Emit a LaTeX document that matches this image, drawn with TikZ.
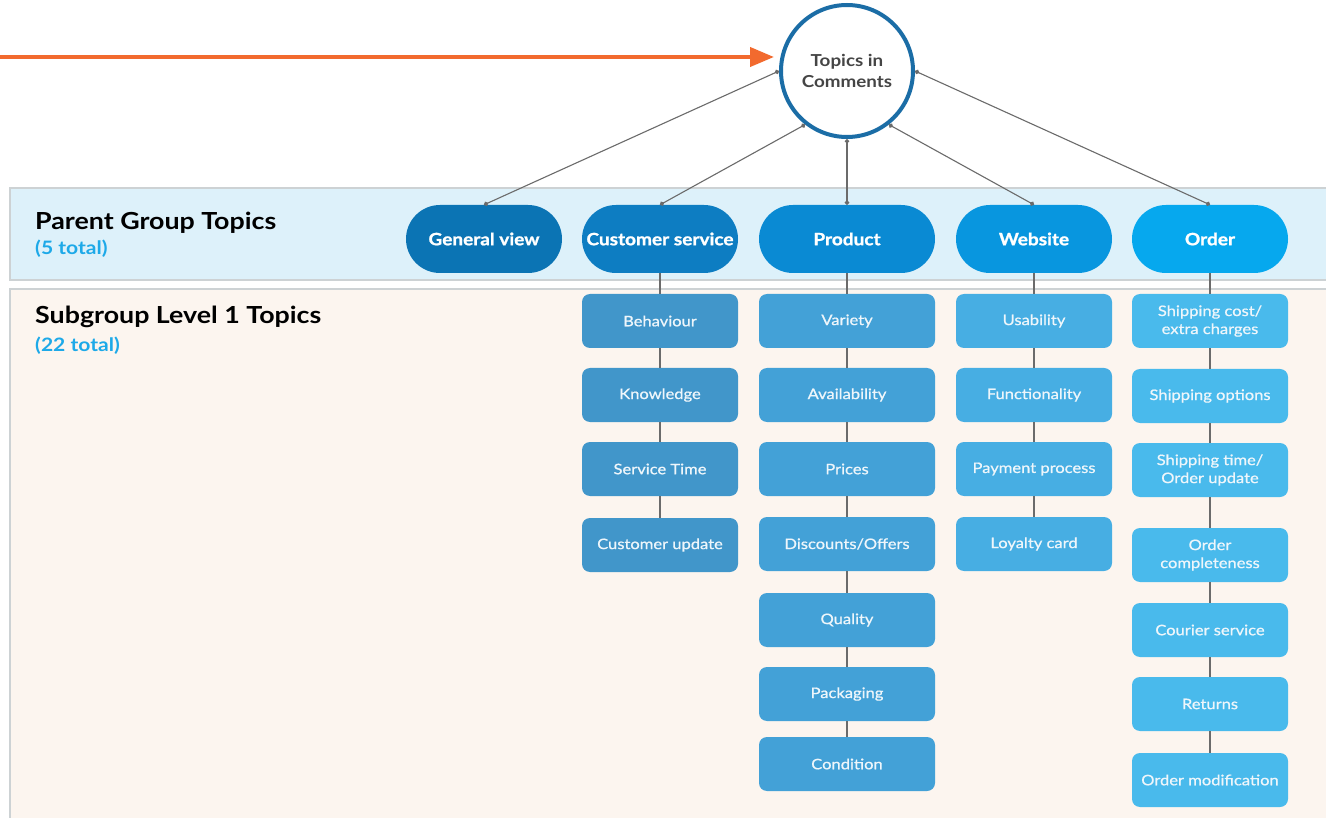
\documentclass[tikz,border=0pt]{standalone}
\usepackage{fontspec}
\setmainfont{Lato}[FakeStretch=1.14]
\newfontfamily\subfont{Lato}[FakeStretch=1.14, FakeBold=0.8]
\newfontfamily\heavyfont{Lato}[FakeStretch=1.12, BoldFeatures={FakeBold=1.2}]
\usetikzlibrary{shapes.misc,arrows.meta}

\definecolor{arroworange}{HTML}{F26A2E}
\definecolor{ringblue}{HTML}{1B6DA6}
\definecolor{bandblue}{HTML}{DDF1FA}
\definecolor{bandcream}{HTML}{FCF5EF}
\definecolor{bandedge}{HTML}{CDD2D4}
\definecolor{linegray}{HTML}{6B6B6B}
\definecolor{countblue}{HTML}{1DA9E8}
\definecolor{ringtext}{HTML}{454545}
\definecolor{pGeneral}{HTML}{0B74B4}
\definecolor{pService}{HTML}{0D7DC2}
\definecolor{pProduct}{HTML}{0A8AD3}
\definecolor{pWebsite}{HTML}{0896DF}
\definecolor{pOrder}{HTML}{06A8EE}
\definecolor{sService}{HTML}{4196CA}
\definecolor{sProduct}{HTML}{43A1D7}
\definecolor{sWebsite}{HTML}{47AEE3}
\definecolor{sOrder}{HTML}{49BAEC}
\definecolor{subtext}{HTML}{EEF6FB}

\begin{document}
\begin{tikzpicture}[x=1pt,y=-1pt,
  parent/.style={rounded rectangle, minimum width=156, minimum height=68,
    inner sep=0, text=white, font=\heavyfont\bfseries\fontsize{17}{19}\selectfont},
  sub/.style={rectangle, rounded corners=8, minimum width=156, minimum height=54,
    inner sep=0, text=subtext, align=center,
    font=\subfont\fontsize{14.5}{18}\selectfont},
  link/.style={draw=linegray, line width=1.1},
  dotlink/.style={link, {Circle[length=4.5pt]}-{Circle[length=4.5pt]}},
  heading/.style={anchor=base west, inner sep=0, font=\fontsize{23.5}{26}\selectfont\bfseries},
  count/.style={anchor=base west, inner sep=0, text=countblue, font=\fontsize{18.5}{20}\selectfont\bfseries},
]
\useasboundingbox (0,0) rectangle (1326,818);
\clip (0,0) rectangle (1326,818);

% background bands
\fill[white] (0,0) rectangle (1326,818);
\draw[fill=bandblue, draw=bandedge, line width=1.5] (10,188) rectangle (1340,280);
\draw[fill=bandcream, draw=bandedge, line width=1.5] (10,289) rectangle (1340,830);

% band headings
\node[heading] (phead) at (35,230) {Parent Group Topics};
\node[count] (pcount) at (35,255) {(5 total)};
\node[heading] (shead) at (35,324) {Subgroup Level 1 Topics};
\node[count] (scount) at (35,352) {(22 total)};

% root
\node[circle, draw=ringblue, line width=4, fill=white, minimum size=132,
  align=center, text=ringtext, font=\fontsize{16.5}{21}\selectfont\bfseries]
  (root) at (847,71) {Topics in\\Comments};

% orange pointer
\coordinate (pstart) at (0,57);
\coordinate (ptip) at (774,57);
\draw[arroworange, line width=4, -{Triangle[length=24pt,width=19pt]}] (pstart) -- (ptip);

% parent group topics
\node[parent, fill=pGeneral] (gv) at (484,239) {General view};
\node[parent, fill=pService] (cs) at (660,239) {Customer service};
\node[parent, fill=pProduct, minimum width=176] (pr) at (847,239) {Product};
\node[parent, fill=pWebsite] (wb) at (1034,239) {Website};
\node[parent, fill=pOrder] (od) at (1210,239) {Order};

% root to parents
\draw[dotlink] (root.180) -- (gv.north);
\draw[dotlink] (root.232) -- (cs.north);
\draw[dotlink] (root.270) -- (pr.north);
\draw[dotlink] (root.308) -- (wb.north);
\draw[dotlink] (root.0) -- (od.north);

% customer service subtopics
\node[sub, fill=sService] (cs1) at (660,321) {Behaviour};
\node[sub, fill=sService] (cs2) at (660,395) {Knowledge};
\node[sub, fill=sService] (cs3) at (660,469) {Service Time};
\node[sub, fill=sService] (cs4) at (660,545) {Customer update};

% product subtopics
\node[sub, fill=sProduct, minimum width=176] (pr1) at (847,321) {Variety};
\node[sub, fill=sProduct, minimum width=176] (pr2) at (847,395) {Availability};
\node[sub, fill=sProduct, minimum width=176] (pr3) at (847,469) {Prices};
\node[sub, fill=sProduct, minimum width=176] (pr4) at (847,544) {Discounts/Offers};
\node[sub, fill=sProduct, minimum width=176] (pr5) at (847,620) {Quality};
\node[sub, fill=sProduct, minimum width=176] (pr6) at (847,694) {Packaging};
\node[sub, fill=sProduct, minimum width=176] (pr7) at (847,764) {Condition};

% website subtopics
\node[sub, fill=sWebsite] (wb1) at (1034,321) {Usability};
\node[sub, fill=sWebsite] (wb2) at (1034,395) {Functionality};
\node[sub, fill=sWebsite] (wb3) at (1034,469) {Payment process};
\node[sub, fill=sWebsite] (wb4) at (1034,544) {Loyalty card};

% order subtopics
\node[sub, fill=sOrder] (od1) at (1210,321) {Shipping cost/\\extra charges};
\node[sub, fill=sOrder] (od2) at (1210,396) {Shipping options};
\node[sub, fill=sOrder] (od3) at (1210,470) {Shipping time/\\Order update};
\node[sub, fill=sOrder] (od4) at (1210,555) {Order\\completeness};
\node[sub, fill=sOrder] (od5) at (1210,630) {Courier service};
\node[sub, fill=sOrder] (od6) at (1210,704) {Returns};
\node[sub, fill=sOrder] (od7) at (1210,780) {Order modification};

% column chains
\foreach \a/\b in {cs/cs1,cs1/cs2,cs2/cs3,cs3/cs4,
                   pr/pr1,pr1/pr2,pr2/pr3,pr3/pr4,pr4/pr5,pr5/pr6,pr6/pr7,
                   wb/wb1,wb1/wb2,wb2/wb3,wb3/wb4,
                   od/od1,od1/od2,od2/od3,od3/od4,od4/od5,od5/od6,od6/od7}
  \draw[link] (\a.south) -- (\b.north);
\end{tikzpicture}
\end{document}
